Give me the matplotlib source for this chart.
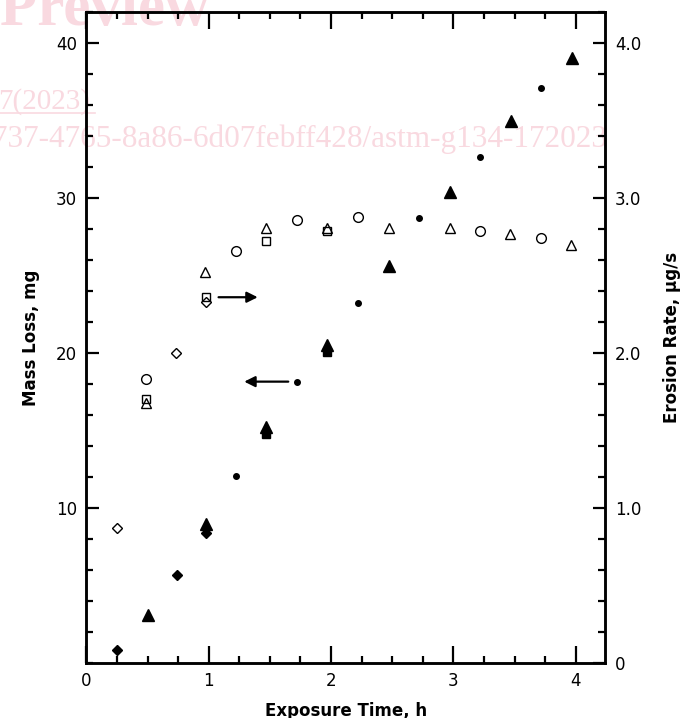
import matplotlib
matplotlib.use("Agg")
import matplotlib.pyplot as plt
from matplotlib.ticker import MultipleLocator, FixedLocator
from matplotlib.lines import Line2D

# mass loss, mg (filled markers, left axis)
ml_tri_t = [0.50, 0.98, 1.47, 1.97, 2.47, 2.97, 3.47, 3.97]
ml_tri_y = [3.05, 8.95, 15.25, 20.5, 25.6, 30.4, 34.95, 39.05]
ml_dia_t = [0.25, 0.74, 0.98]
ml_dia_y = [0.82, 5.68, 8.38]
ml_sq_t = [1.47, 1.97]
ml_sq_y = [14.75, 20.05]
ml_dot_t = [1.22, 1.72, 2.22, 2.72, 3.22, 3.72]
ml_dot_y = [12.06, 18.1, 23.25, 28.7, 32.65, 37.1]

# erosion rate, ug/s (open markers, right axis)
er_tri_t = [0.49, 0.97, 1.47, 1.97, 2.47, 2.97, 3.46, 3.96]
er_tri_y = [1.68, 2.52, 2.81, 2.81, 2.81, 2.81, 2.77, 2.70]
er_circ_t = [0.49, 1.22, 1.72, 2.22, 3.22, 3.72]
er_circ_y = [1.83, 2.66, 2.86, 2.88, 2.79, 2.74]
er_sq_t = [0.49, 0.98, 1.47, 1.97]
er_sq_y = [1.70, 2.36, 2.72, 2.79]
er_dia_t = [0.247, 0.73, 0.98]
er_dia_y = [0.87, 2.00, 2.33]

# arrows (tail, head) in left-axis data units
arrow_right = ((1.08, 23.6), (1.40, 23.6))
arrow_left = ((1.65, 18.15), (1.29, 18.15))

x_major = [0, 1, 2, 3, 4]
left_major = [10, 20, 30, 40]
right_major = [0, 1, 2, 3, 4]
right_labels = ["0", "1.0", "2.0", "3.0", "4.0"]

plt.rcParams["font.family"] = "DejaVu Sans"

fig = plt.figure(figsize=(6.94, 7.18), dpi=100)

# faint preview watermark behind the chart
wm = "#f9d9e0"
fig.text(0.0, 0.965, "Preview", fontsize=44, family="Liberation Serif",
         fontweight="bold", color=wm, ha="left", va="baseline", zorder=-5)
fig.text(-0.002, 0.848, "7(2023)", fontsize=21, family="Liberation Serif",
         color=wm, ha="left", va="baseline", zorder=-5)
fig.add_artist(Line2D([0.0, 0.137], [0.843, 0.843], color=wm, lw=1.2, zorder=-5))
fig.text(-0.012, 0.795, "737-4765-8a86-6d07febff428/astm-g134-172023", fontsize=22.5,
         family="Liberation Serif", color=wm, ha="left", va="baseline", zorder=-5)

ax = fig.add_axes([0.1246, 0.0770, 0.8718 - 0.1246, 0.9829 - 0.0770])
ax.set_facecolor("none")
ax2 = ax.twinx()
ax2.set_facecolor("none")

ax.set_xlim(0, 4.24)
ax.set_ylim(0, 42)
ax2.set_ylim(0, 4.2)

k = "black"
ax.plot(ml_tri_t, ml_tri_y, ls="none", marker="^", ms=8.5, color=k)
ax.plot(ml_dia_t, ml_dia_y, ls="none", marker="D", ms=5.5, color=k)
ax.plot(ml_sq_t, ml_sq_y, ls="none", marker="s", ms=5.5, color=k)
ax.plot(ml_dot_t, ml_dot_y, ls="none", marker="o", ms=4, color=k)

ax2.plot(er_tri_t, er_tri_y, ls="none", marker="^", ms=7.5, mfc="none", mec=k, mew=1.0)
ax2.plot(er_circ_t, er_circ_y, ls="none", marker="o", ms=7.0, mfc="none", mec=k, mew=1.0)
ax2.plot(er_sq_t, er_sq_y, ls="none", marker="s", ms=6.0, mfc="none", mec=k, mew=1.0)
ax2.plot(er_dia_t, er_dia_y, ls="none", marker="D", ms=5.0, mfc="none", mec=k, mew=1.0)

for tail, head in (arrow_right, arrow_left):
    ax.annotate("", xy=head, xytext=tail,
                arrowprops=dict(arrowstyle="-|>", color=k, lw=1.6,
                                mutation_scale=16, shrinkA=0, shrinkB=0))

ax.xaxis.set_major_locator(FixedLocator(x_major))
ax.xaxis.set_minor_locator(MultipleLocator(0.25))
ax.set_xticklabels([str(v) for v in x_major])
ax.yaxis.set_major_locator(FixedLocator(left_major))
ax.yaxis.set_minor_locator(MultipleLocator(2))
ax.set_yticklabels([str(v) for v in left_major])
ax2.yaxis.set_major_locator(FixedLocator(right_major))
ax2.yaxis.set_minor_locator(MultipleLocator(0.2))
ax2.set_yticklabels(right_labels)

ax.tick_params(axis="x", which="major", direction="in", top=True, length=12, width=1.6,
               labelsize=12, pad=7)
ax.tick_params(axis="x", which="minor", direction="in", top=True, length=5, width=1.6)
ax.tick_params(axis="y", which="major", direction="in", right=False, length=9, width=1.6,
               labelsize=12, pad=7)
ax.tick_params(axis="y", which="minor", direction="in", right=False, length=5, width=1.6)
ax2.tick_params(axis="y", which="major", direction="in", length=9, width=1.6,
                labelsize=12, pad=7)
ax2.tick_params(axis="y", which="minor", direction="in", length=5, width=1.6)

for a in (ax, ax2):
    for s in a.spines.values():
        s.set_linewidth(1.8)

ax.set_xlabel("Exposure Time, h", fontsize=12, fontweight="bold", labelpad=8)
ax.set_ylabel("Mass Loss, mg", fontsize=12, fontweight="bold", labelpad=11)
ax2.set_ylabel("Erosion Rate, \u00b5g/s", fontsize=12, fontweight="bold", labelpad=16)

fig.savefig("out.png", dpi=100)
